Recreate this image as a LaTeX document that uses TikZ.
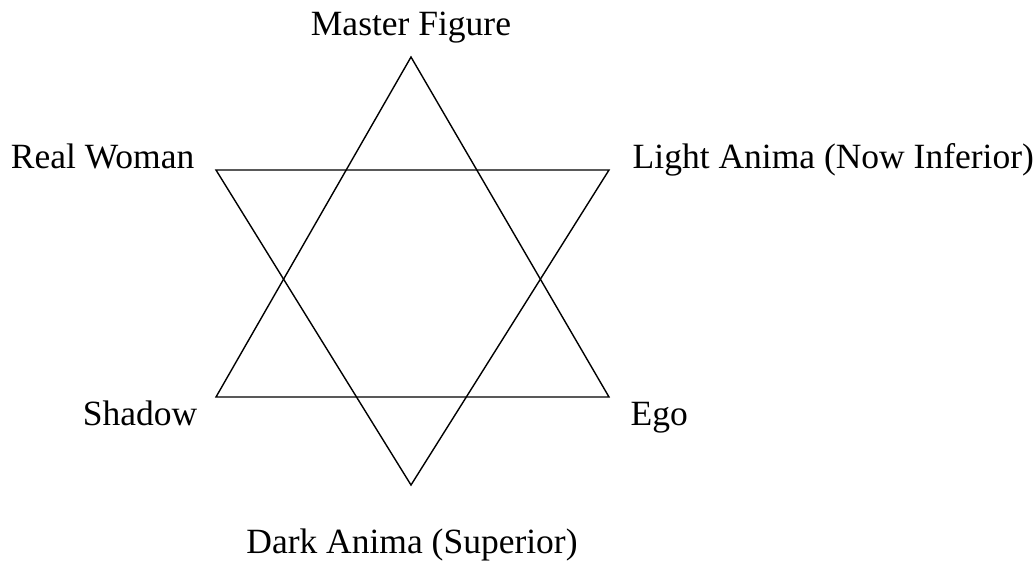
\documentclass[tikz,border=0pt]{standalone}
\usepackage{fontspec}
\setmainfont{Liberation Serif}
\usetikzlibrary{positioning}

\begin{document}
\begin{tikzpicture}[x=1pt,y=-1pt,line width=1.4pt,every node/.style={font=\fontsize{35.5}{40}\selectfont,inner sep=0pt}]
\useasboundingbox (0,0) rectangle (1034,566);
% star points
\coordinate (mf) at (411,57);
\coordinate (sh) at (216,397);
\coordinate (eg) at (609,397);
\coordinate (da) at (411,485);
\coordinate (rw) at (216,170);
\coordinate (la) at (609,170);
\draw (mf) -- (sh) -- (eg) -- cycle;
\draw (da) -- (rw) -- (la) -- cycle;
% labels
\node[anchor=base] (mfl) at (411,35) {Master Figure};
\node[anchor=base east] (rwl) at (195,168) {Real Woman};
\node[anchor=base west] (lal) at (632,168) {Light Anima (Now Inferior)};
\node[anchor=base east] (shl) at (198,425) {Shadow};
\node[anchor=base west] (egl) at (630,425) {Ego};
\node[anchor=base] (dal) at (412,553) {Dark Anima (Superior)};
\end{tikzpicture}
\end{document}
